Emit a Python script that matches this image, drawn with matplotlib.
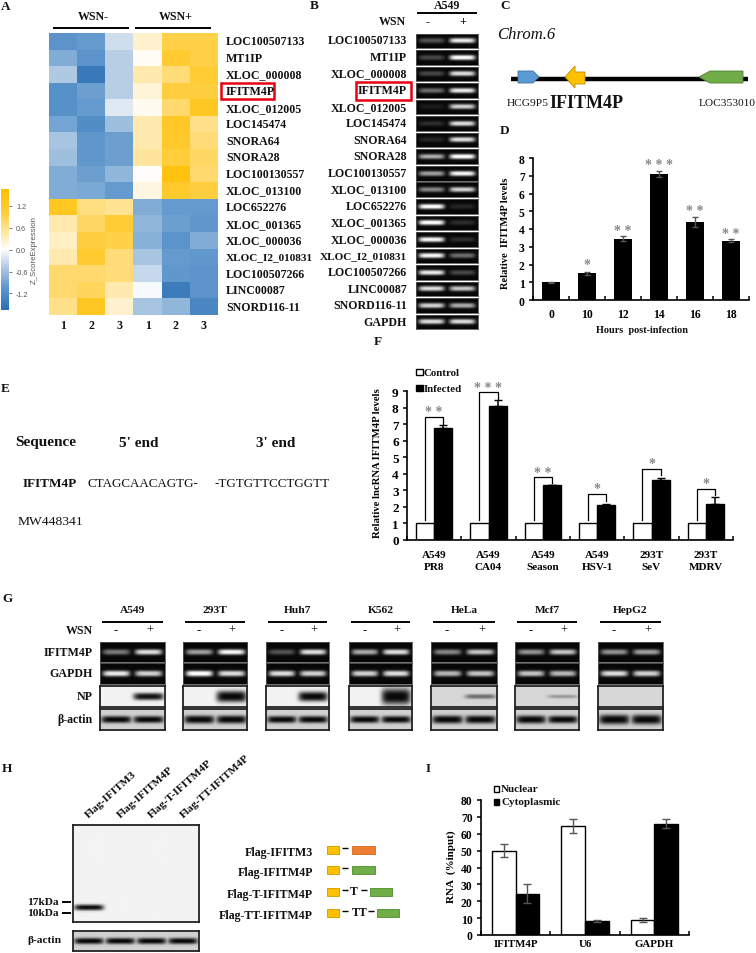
import numpy as np
import matplotlib
matplotlib.use('Agg')
import matplotlib.pyplot as plt
from matplotlib.colors import LinearSegmentedColormap
from matplotlib.patches import Rectangle, Polygon

plt.rcParams['font.family'] = ['Liberation Serif', 'DejaVu Serif']

W, H = 756, 954

# panel A
genes = ['LOC100507133', 'MT1IP', 'XLOC_000008', 'IFITM4P', 'XLOC_012005', 'LOC145474',
         'SNORA64', 'SNORA28', 'LOC100130557', 'XLOC_013100', 'LOC652276', 'XLOC_001365',
         'XLOC_000036', 'XLOC_I2_010831', 'LOC100507266', 'LINC00087', 'SNORD116-11']
z_scores = [[-1.1, -1.0, -0.3, 0.25, 0.95, 0.95],
            [-0.8, -1.1, -0.45, 0.05, 1.15, 0.95],
            [-0.5, -1.5, -0.45, 0.4, 0.7, 1.1],
            [-1.15, -0.95, -0.45, 0.2, 1.0, 1.0],
            [-1.15, -1.0, -0.2, 0.07, 0.75, 1.3],
            [-0.9, -1.2, -0.6, 0.4, 1.25, 0.6],
            [-0.55, -1.05, -0.95, 0.4, 1.2, 0.7],
            [-0.6, -1.05, -0.95, 0.5, 1.05, 0.8],
            [-0.8, -0.95, -0.7, 0.02, 1.5, 0.75],
            [-0.8, -0.85, -1.0, 0.15, 1.2, 1.0],
            [1.3, 0.65, 0.55, -0.8, -1.0, -1.0],
            [0.4, 0.8, 1.1, -0.7, -0.95, -1.05],
            [0.3, 1.0, 0.95, -0.75, -1.1, -0.8],
            [0.4, 1.15, 0.7, -0.55, -1.0, -1.05],
            [0.75, 0.75, 0.7, -0.35, -1.05, -1.1],
            [0.75, 0.85, 0.4, -0.05, -1.45, -1.1],
            [0.6, 1.3, 0.25, -0.55, -0.7, -1.3]]
col_labels = ['1', '2', '3', '1', '2', '3']
cbar_ticks = [1.2, 0.6, 0.0, -0.6, -1.2]

# panel B gel, band strength (-, +)
b_genes = genes + ['GAPDH']
b_levels = [(.3, .9), (.25, 1), (.25, .85), (.4, .9), (.08, .8), (.15, .85), (.12, .85), (.65, 1), (.6, .95),
            (.5, .8), (1, .12), (1, .15), (.95, .15), (.95, .4), (.9, .25), (.85, .75), (.8, .65), (.85, .85)]

# panel D
hours = ['0', '10', '12', '14', '16', '18']
rel_levels = [1, 1.5, 3.45, 7.1, 4.4, 3.35]
rel_err = [0.02, 0.08, 0.13, 0.15, 0.3, 0.08]
d_stars = ['', '*', '* *', '* * *', '* *', '* *']
d_star_y = [0, 1.99, 3.94, 7.62, 5.03, 3.72]

# panel F
f_labels = ['A549\nPR8', 'A549\nCA04', 'A549\nSeason', 'A549\nHSV-1', '293T\nSeV', '293T\nMDRV']
f_control = [1, 1, 1, 1, 1, 1]
f_infected = [6.8, 8.1, 3.3, 2.1, 3.65, 2.2]
f_err = [0.15, 0.4, 0.02, 0.07, 0.08, 0.4]
f_stars = ['* *', '* * *', '* *', '*', '*', '*']
f_top = [7.46, 8.93, 3.8, 2.8, 4.3, 3.1]
f_drop = [7.0, 8.55, 3.45, 2.35, 3.95, 2.7]

# panel G
g_cells = ['A549', '293T', 'Huh7', 'K562', 'HeLa', 'Mcf7', 'HepG2']
g_rows = ['IFITM4P', 'GAPDH', 'NP', 'β-actin']
g_ifitm = [(.45, .85), (.6, .95), (.3, .85), (.65, .85), (.5, .75), (.55, .75), (.55, .6)]
g_gapdh = [(.9, .8), (1, .85), (.85, .8), (.8, .85), (.7, .75), (.75, .7), (.85, .8)]
g_np = [(0, .95), (0, 1.7), (0, 1.4), (0, 2.6), (0, .5), (0, .3), (0, 0)]
g_actin = [(1, 1), (1.2, 1.2), (1, 1), (1, 1), (1.2, 1.2), (1.2, 1.1), (1.5, 1.5)]

# panel H
h_lanes = ['Flag-IFITM3', 'Flag-IFITM4P', 'Flag-T-IFITM4P', 'Flag-TT-IFITM4P']
h_flag = [1, 0, 0, 0]
h_actin = [1, 1, 1, 1]
h_links = ['', '', 'T', 'TT']
h_colors = ['#ed7d31', '#70ad47', '#70ad47', '#70ad47']

# panel I
i_labels = ['IFITM4P', 'U6', 'GAPDH']
nuclear = [50, 64.5, 9]
nuclear_err = [3.8, 4.2, 1]
cyto = [24.5, 8.5, 66]
cyto_err = [5.5, 0.5, 2.5]

fig = plt.figure(figsize=(W / 100, H / 100), dpi=100)


def ax_px(x0, y0, x1, y1):
    return fig.add_axes([x0 / W, 1 - y1 / H, (x1 - x0) / W, (y1 - y0) / H])


ov = fig.add_axes([0, 0, 1, 1], zorder=20)
ov.set_xlim(0, W)
ov.set_ylim(H, 0)
ov.axis('off')
ov.patch.set_alpha(0)


def T(x, y, s, size=8.6, weight='bold', ha='left', **kw):
    ov.text(x, y, s, fontsize=size, fontweight=weight, ha=ha, va='center', color=kw.pop('color', '#111111'), **kw)


def L(x0, x1, y, lw=1.4, color='black'):
    ov.plot([x0, x1], [y, y], color=color, lw=lw, solid_capstyle='butt')


def gel(box, levels, blot=False, thick=0.2, yc=0.5, bg=0.9):
    ax = ax_px(*box)
    yy, xx = np.mgrid[0:1:60j, 0:1:160j]
    img = np.zeros_like(xx)
    n = len(levels)
    half = 0.47 if blot else 0.42
    for i, lev in enumerate(levels):
        xc = (i + 0.5) / n
        t = thick * (0.3 + 0.9 * lev) if blot else thick
        prof_x = np.exp(-(np.abs(xx - xc) / (half / n)) ** 6)
        prof_y = np.exp(-(np.abs(yy - yc) / t) ** 2.6)
        img = np.maximum(img, min(lev, 1) * prof_x * prof_y)
    if blot:
        ax.imshow(bg * (1 - img * 0.97), cmap='gray', vmin=0, vmax=1, aspect='auto', interpolation='bilinear')
        for s in ax.spines.values():
            s.set_linewidth(1.3)
            s.set_color('#222222')
    else:
        ax.imshow(0.03 + img, cmap='gray', vmin=0, vmax=1, aspect='auto', interpolation='bilinear')
        for s in ax.spines.values():
            s.set_linewidth(0.6)
            s.set_color('#555555')
    ax.set_xticks([])
    ax.set_yticks([])
    return ax


def clean_axes(ax, lw=1.2):
    ax.spines['top'].set_visible(False)
    ax.spines['right'].set_visible(False)
    ax.spines['left'].set_linewidth(lw)
    ax.spines['bottom'].set_linewidth(lw)
    ax.tick_params(axis='y', length=3, width=1.1, pad=3, labelsize=8.4)
    ax.tick_params(axis='x', length=0, labelsize=8.4)
    for lab in ax.get_yticklabels() + ax.get_xticklabels():
        lab.set_fontweight('bold')


def edge_ticks(ax, n):
    ax.set_xticks(np.arange(n + 1) - 0.5, minor=True)
    ax.tick_params(axis='x', which='minor', direction='in', length=3, width=1.1)


# panel letters
for x, y, s in [(1, 7, 'A'), (310, 6, 'B'), (500, 6, 'C'), (500, 131, 'D'), (1, 389, 'E'),
                (374, 342, 'F'), (2, 599, 'G'), (2, 769, 'H'), (426, 769, 'I')]:
    T(x, y, s, size=9.5)

# A
vmax = 1.65
nodes = [(-1.65, '#2b70b3'), (-1.0, '#659bcf'), (-0.5, '#afc9e3'), (0, '#ffffff'),
         (0.4, '#ffeab0'), (1.0, '#ffcf40'), (1.65, '#ffbf00')]
blue_gold = LinearSegmentedColormap.from_list('bg', [((v + vmax) / (2 * vmax), c) for v, c in nodes])
ax = ax_px(49, 34, 218, 316)
ax.imshow(np.array(z_scores), cmap=blue_gold, vmin=-vmax, vmax=vmax, aspect='auto', interpolation='nearest')
ax.axis('off')
row_h = (316 - 34) / len(genes)
for i, g in enumerate(genes):
    T(226, 34 + row_h * (i + 0.5), g, size=8.1 if len(g) > 12 else 8.6)
for i, c in enumerate(col_labels):
    T(49 + 169 / 6 * (i + 0.5), 326, c, ha='center')
T(93, 17, 'WSN-', ha='center')
T(176, 17, 'WSN+', ha='center')
L(53, 129, 29)
L(135, 211, 29)
ov.add_patch(Rectangle((220.5, 84), 53, 16, fill=False, ec='#e60012', lw=1.8))

cb = ax_px(1, 190, 9, 311)
cb.imshow(np.linspace(vmax, -vmax, 200)[:, None], cmap=blue_gold, vmin=-vmax, vmax=vmax, aspect='auto',
          extent=[0, 1, -vmax, vmax])
cb.set_xticks([])
cb.yaxis.tick_right()
cb.set_yticks(cbar_ticks)
cb.set_yticklabels(['%.1f' % t for t in cbar_ticks], fontsize=5.2, family='Liberation Sans', color='#555555')
cb.tick_params(axis='y', length=2, width=0.6, color='#666666', pad=3)
for s in cb.spines.values():
    s.set_visible(False)
ov.text(34, 250, 'Z_ScoreExpression', rotation=90, ha='center', va='center', fontsize=5.6,
        family='Liberation Sans', color='#555555')

# B
pitch = 16.55
for i, g in enumerate(b_genes):
    y0 = 34.5 + pitch * i
    gel((416, y0, 478, y0 + 14.6), b_levels[i], thick=0.17)
    T(407, y0 + 7, g, ha='right', size=8.1 if len(g) > 12 else 8.6)
T(447, 6, 'A549', ha='center')
L(417, 477, 14)
T(406, 22, 'WSN', ha='right')
T(428, 22, '-', ha='center')
T(463, 22, '+', ha='center')
ov.add_patch(Rectangle((355.5, 83), 55, 18, fill=False, ec='#e60012', lw=1.8))

# C
L(511, 748, 79.5, lw=3.2)
ov.add_patch(Polygon([(518, 72), (533, 72), (539, 78), (533, 84), (518, 84)], fc='#5b9bd5', ec='#41719c', lw=0.6, zorder=3))
ov.add_patch(Polygon([(565, 78), (575, 67), (575, 73), (585, 73), (585, 85), (575, 85), (575, 89)],
                     fc='#ffc000', ec='#bc8c00', lw=0.6, zorder=3))
ov.add_patch(Polygon([(699, 78), (710, 72), (743, 72), (743, 84), (710, 84)], fc='#70ad47', ec='#507e32', lw=0.6, zorder=3))
T(497, 35, 'Chrom.6', size=12, weight='normal', style='italic')
T(507, 103, 'HCG9P5', size=8.2, weight='normal')
T(549, 103, 'IFITM4P', size=13)
T(699, 103, 'LOC353010', size=8.2, weight='normal')

# D
ax = ax_px(533, 159, 749, 301)
x = np.arange(len(hours))
ax.bar(x, rel_levels, width=0.52, color='black')
ax.errorbar(x, rel_levels, yerr=rel_err, fmt='none', ecolor='#555555', elinewidth=1, capsize=2.5)
ax.set_xlim(-0.5, 5.5)
ax.set_ylim(0, 8)
ax.set_yticks(range(9))
ax.set_xticks(x)
ax.set_xticklabels(hours)
ax.tick_params(axis='x', pad=6)
clean_axes(ax)
edge_ticks(ax, len(hours))
for i, s in enumerate(d_stars):
    if s:
        ax.text(i, d_star_y[i], s, ha='center', va='center', fontsize=10, color='#888888', fontweight='bold',
                clip_on=False)
ov.text(505, 233, 'Relative  IFITM4P levels', rotation=90, ha='center', va='center', fontsize=7.6, fontweight='bold')
T(642, 331, 'Hours  post-infection', ha='center', size=7.4)

# E
T(15, 443, 'Sequence', size=11)
T(119, 444, "5' end", size=11)
T(256, 444, "3' end", size=11)
T(23, 484, 'IFITM4P', size=9.5)
T(87, 484, 'CTAGCAACAGTG-', size=9.4, weight='normal')
T(215, 484, '-TGTGTTCCTGGTT', size=9.4, weight='normal')
T(18, 522, 'MW448341', size=9.7, weight='normal')

# F
ax = ax_px(407, 392.3, 733, 541)
x = np.arange(len(f_labels))
bw = 0.335
ax.bar(x - bw / 2, f_control, width=bw, color='white', edgecolor='black', lw=1)
ax.bar(x + bw / 2, f_infected, width=bw, color='black', edgecolor='black', lw=1)
ax.errorbar(x + bw / 2, f_infected, yerr=[[0] * 6, f_err], fmt='none', ecolor='black', elinewidth=1.1, capsize=3)
for i in range(len(f_labels)):
    ax.plot([i - bw / 2, i - bw / 2, i + bw / 2, i + bw / 2], [1.2, f_top[i], f_top[i], f_drop[i]],
            color='black', lw=0.9, clip_on=False)
    ax.text(i, f_top[i] + 0.3, f_stars[i], ha='center', va='center', fontsize=10, color='#888888', fontweight='bold')
ax.set_xlim(-0.5, 5.5)
ax.set_ylim(0, 9)
ax.set_yticks(range(10))
ax.set_xticks(x)
ax.set_xticklabels(f_labels, linespacing=1.45)
ax.tick_params(axis='x', pad=7)
clean_axes(ax)
ax.tick_params(axis='y', labelsize=9.5)
ax.tick_params(axis='x', labelsize=8)
edge_ticks(ax, len(f_labels))
ov.text(378, 463, 'Relative lncRNA IFITM4P levels', rotation=90, ha='center', va='center', fontsize=7.7, fontweight='bold')
ov.add_patch(Rectangle((416, 370), 6.5, 6, fc='white', ec='black', lw=1))
ov.add_patch(Rectangle((416, 386), 6.5, 6, fc='black', ec='black', lw=1))
T(424, 373.5, 'Control', size=7.8)
T(424, 389.5, 'Infected', size=7.8)

# G
g_x = [(100, 165), (183, 247), (266, 329), (349, 412), (431, 497), (515, 579), (598, 663)]
g_y = [(643, 663), (664, 685), (687, 708), (710, 731)]
g_data = [g_ifitm, g_gapdh, g_np, g_actin]
for i, c in enumerate(g_cells):
    x0, x1 = g_x[i]
    xm = (x0 + x1) / 2
    T(xm, 611, c, ha='center', size=8.2)
    L(x0 + 2, x1 - 2, 623)
    T(x0 + 16, 631, '-', ha='center', size=9, weight='normal')
    T(x1 - 15, 631, '+', ha='center', size=9, weight='normal')
    gel((x0, g_y[0][0], x1, g_y[0][1]), g_data[0][i], thick=0.14)
    gel((x0, g_y[1][0], x1, g_y[1][1]), g_data[1][i], thick=0.14)
    gel((x0, g_y[2][0], x1, g_y[2][1]), g_data[2][i], blot=True, thick=0.15, bg=0.95 if i < 4 else 0.84)
    gel((x0, g_y[3][0], x1, g_y[3][1]), g_data[3][i], blot=True, thick=0.14, bg=0.82)
T(93, 631, 'WSN', ha='right')
for r, name in enumerate(g_rows):
    T(93, sum(g_y[r]) / 2, name, ha='right')

# H
gel((73, 826, 199, 923), h_flag, blot=True, thick=0.025, yc=0.856, bg=0.95)
gel((73, 932, 199, 952), h_actin, blot=True, thick=0.13, bg=0.82)
for i, s in enumerate(h_lanes):
    ov.text(87 + 31.5 * i, 817, s, rotation=42, rotation_mode='anchor', ha='left', va='center', fontsize=8.2,
            fontweight='bold', color='#111111')
T(59, 903, '17kDa', ha='right', size=8.2)
T(59, 914, '10kDa', ha='right', size=8.2)
L(62, 71, 903)
L(62, 71, 914)
T(61, 941, 'β-actin', ha='right', size=8.2)
h_y = [851, 871, 893, 914]
h_tail = [(352, 375), (352, 375), (370, 392), (377, 399)]
for i, s in enumerate(h_lanes):
    T(313, h_y[i] + 2, s, ha='right')
    ov.add_patch(Rectangle((327, h_y[i] - 4), 12, 8, fc='#ffc000', ec='#d9a300', lw=0.7))
    ov.add_patch(Rectangle((h_tail[i][0], h_y[i] - 4), h_tail[i][1] - h_tail[i][0], 8, fc=h_colors[i], ec='#5a9a3a' if i else '#d9722a', lw=0.7))
    L(342, 348, h_y[i] - 2, lw=1)
    if h_links[i]:
        T(354 if h_links[i] == 'T' else 360, h_y[i] - 1, h_links[i], ha='center')
        L(h_tail[i][0] - 9, h_tail[i][0] - 3, h_y[i] - 2, lw=1)

# I
ax = ax_px(481, 801, 689, 936)
x = np.arange(len(i_labels))
bw = 0.34
ax.bar(x - bw / 2, nuclear, width=bw, color='white', edgecolor='black', lw=1)
ax.bar(x + bw / 2, cyto, width=bw, color='black', edgecolor='black', lw=1)
ax.errorbar(x - bw / 2, nuclear, yerr=nuclear_err, fmt='none', ecolor='#555555', elinewidth=1, capsize=3)
ax.errorbar(x + bw / 2, cyto, yerr=cyto_err, fmt='none', ecolor='#555555', elinewidth=1, capsize=3)
ax.set_xlim(-0.5, 2.5)
ax.set_ylim(0, 80)
ax.set_yticks(range(0, 81, 10))
ax.set_xticks(x)
ax.set_xticklabels(i_labels)
clean_axes(ax)
ax.tick_params(axis='x', pad=3, labelsize=7.8)
edge_ticks(ax, len(i_labels))
ov.text(451, 867, 'RNA  (%input)', rotation=90, ha='center', va='center', fontsize=8, fontweight='bold')
ov.add_patch(Rectangle((493.5, 787), 5.5, 5.5, fc='white', ec='black', lw=1))
ov.add_patch(Rectangle((493.5, 800), 5.5, 5.5, fc='black', ec='black', lw=1))
T(501, 790, 'Nuclear', size=8)
T(501, 803, 'Cytoplasmic', size=8)

fig.savefig('out.png', dpi=100)
